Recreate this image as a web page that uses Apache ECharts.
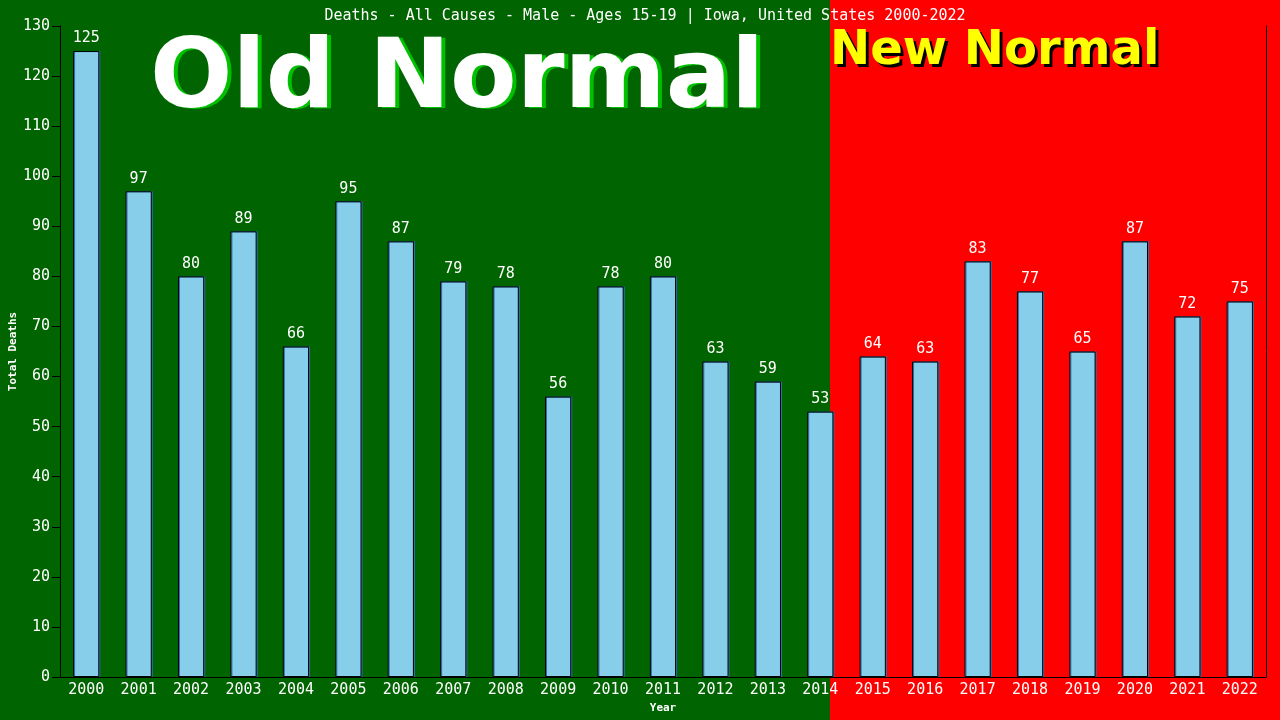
<!DOCTYPE html>
<html>
<head>
<meta charset="utf-8">
<script src="https://cdn.jsdelivr.net/npm/echarts@6/dist/echarts.min.js"></script>
<style>
  html, body { margin: 0; padding: 0; background: #006400; }
  #chart { width: 1280px; height: 720px; }
</style>
</head>
<body>
<div id="chart"></div>
<script>
var years = ['2000', '2001', '2002', '2003', '2004', '2005', '2006', '2007', '2008', '2009', '2010', '2011',
  '2012', '2013', '2014', '2015', '2016', '2017', '2018', '2019', '2020', '2021', '2022'];
var deaths = [125, 97, 80, 89, 66, 95, 87, 79, 78, 56, 78, 80, 63, 59, 53, 64, 63, 83, 77, 65, 87, 72, 75];

var titleText = 'Deaths - All Causes - Male - Ages 15-19 | Iowa, United States 2000-2022';
var monoFont = 'DejaVu Sans Mono';

function drawChart () {
  var chartDom = document.getElementById('chart');
  var myChart = echarts.init(chartDom);
  var option;

  option = {
    animation: false,
    backgroundColor: '#006400',
    title: {
      text: titleText,
      left: 640,
      textAlign: 'center',
      top: 4,
      textStyle: { color: '#ffffff', fontFamily: monoFont, fontSize: 15, fontWeight: 'normal' }
    },
    graphic: [
      { type: 'rect', z: -10, shape: { x: 0, y: 0, width: 830, height: 720 }, style: { fill: '#006400' } },
      { type: 'rect', z: -10, shape: { x: 830, y: 0, width: 450, height: 720 }, style: { fill: '#ff0000' } },
      // "Old Normal" with green shadow
      { type: 'text', z: 5, left: 154, top: 34,
        style: { text: 'Old Normal', fill: '#00c000', font: 'bold 97px "DejaVu Sans"' } },
      { type: 'text', z: 6, left: 150, top: 33,
        style: { text: 'Old Normal', fill: '#ffffff', font: 'bold 97px "DejaVu Sans"' } },
      // "New Normal" with black shadow
      { type: 'text', z: 5, left: 833, top: 31,
        style: { text: 'New Normal', fill: '#000000', font: 'bold 48px "DejaVu Sans"' } },
      { type: 'text', z: 6, left: 830, top: 28,
        style: { text: 'New Normal', fill: '#ffff00', font: 'bold 48px "DejaVu Sans"' } }
    ],
    grid: { left: 60, right: 14, top: 26, bottom: 43, containLabel: false, outerBoundsMode: 'none' },
    xAxis: {
      type: 'category',
      data: years,
      name: 'Year',
      nameLocation: 'middle',
      nameGap: 26,
      nameTextStyle: { color: '#ffffff', fontFamily: monoFont, fontSize: 11, fontWeight: 'bold' },
      axisLine: { lineStyle: { color: '#000000', width: 1 } },
      axisTick: { show: false },
      axisLabel: { color: '#ffffff', fontFamily: monoFont, fontSize: 15, margin: 6, interval: 0 }
    },
    yAxis: [
      {
        type: 'value',
        min: 0,
        max: 130,
        interval: 10,
        name: 'Total Deaths',
        nameLocation: 'middle',
        nameGap: 41,
        nameMoveOverlap: false,
        nameTextStyle: { color: '#ffffff', fontFamily: monoFont, fontSize: 11, fontWeight: 'bold' },
        axisLine: { show: true, lineStyle: { color: '#000000', width: 1 } },
        axisTick: { show: true, inside: false, length: 8, lineStyle: { color: '#000000' } },
        axisLabel: { color: '#ffffff', fontFamily: monoFont, fontSize: 15, margin: 10 },
        splitLine: { show: false }
      },
      {
        type: 'value',
        min: 0,
        max: 130,
        interval: 10,
        position: 'right',
        axisLine: { show: true, lineStyle: { color: '#000000', width: 1 } },
        axisTick: { show: false },
        axisLabel: { show: false },
        splitLine: { show: false }
      }
    ],
    series: [
      {
        name: 'Deaths',
        type: 'bar',
        data: deaths,
        barWidth: '50%',
        itemStyle: {
          color: '#87ceeb',
          borderColor: '#000000',
          borderWidth: 1,
          shadowColor: '#3070b0',
          shadowOffsetX: 1,
          shadowOffsetY: 0,
          shadowBlur: 0
        },
        label: {
          show: true,
          position: 'top',
          distance: 5,
          color: '#ffffff',
          fontFamily: monoFont,
          fontSize: 15
        }
      }
    ]
  };

  option && myChart.setOption(option);
}

drawChart()
</script>
</body>
</html>
